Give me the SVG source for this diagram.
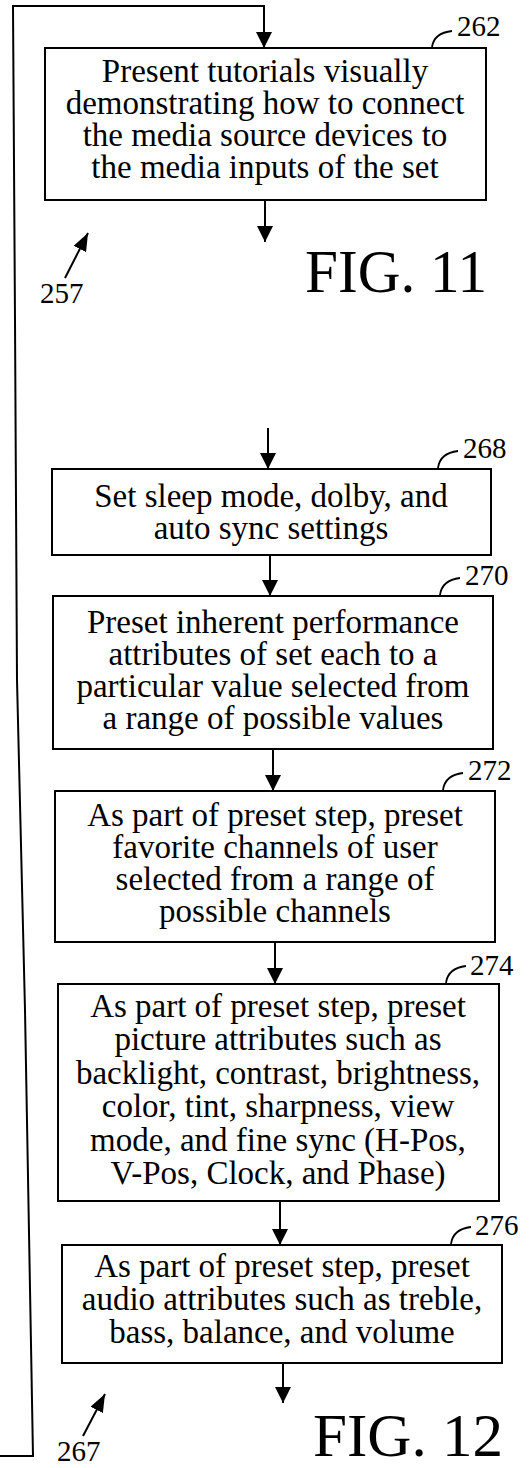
<svg xmlns="http://www.w3.org/2000/svg" width="529" height="1468" viewBox="0 0 529 1468">
<style>
.box{fill:none;stroke:#000;stroke-width:2}
.t{font-family:"Liberation Serif","Times New Roman",serif;font-size:33px;fill:#000;text-anchor:middle}
.lbl{font-family:"Liberation Serif","Times New Roman",serif;font-size:29px;fill:#000}
.fig{font-family:"Liberation Serif","Times New Roman",serif;font-size:62px;fill:#000}
.ln{fill:none;stroke:#000;stroke-width:2}
.ld{fill:none;stroke:#000;stroke-width:1.8}
</style>
<defs>
<marker id="ah" viewBox="0 0 16 16" refX="16" refY="8" markerWidth="16" markerHeight="16" orient="auto" markerUnits="userSpaceOnUse"><path d="M0,0 L16,8 L0,16 z" fill="#000"/></marker>
<marker id="ah2" viewBox="0 0 18 14" refX="18" refY="7" markerWidth="18" markerHeight="14" orient="auto" markerUnits="userSpaceOnUse"><path d="M0,0 L18,7 L0,14 z" fill="#000"/></marker>
</defs>
<rect width="529" height="1468" fill="#fff"/>
<g id="connectors">
<polyline class="ln" points="0,1456 33,1456 25,1010 17,680 15,320 13,6 264,6 264,48" marker-end="url(#ah)"/>
<line class="ln" x1="265" y1="200" x2="265" y2="242" marker-end="url(#ah)"/>
<line class="ln" x1="268" y1="428" x2="268" y2="469" marker-end="url(#ah)"/>
<line class="ln" x1="270" y1="555" x2="270" y2="596" marker-end="url(#ah)"/>
<line class="ln" x1="273" y1="749" x2="273" y2="791" marker-end="url(#ah)"/>
<line class="ln" x1="275" y1="942" x2="275" y2="984" marker-end="url(#ah)"/>
<line class="ln" x1="280" y1="1201" x2="280" y2="1245" marker-end="url(#ah)"/>
<line class="ln" x1="283" y1="1363" x2="283" y2="1403" marker-end="url(#ah)"/>
<line class="ln" x1="65" y1="278" x2="88" y2="233" marker-end="url(#ah2)"/>
<line class="ln" x1="83" y1="1436" x2="105" y2="1394" marker-end="url(#ah2)"/>
</g>
<g id="n262">
<rect class="box" x="45" y="48" width="441" height="152"/>
<text class="t" x="265" y="82">Present tutorials visually</text>
<text class="t" x="265" y="114">demonstrating how to connect</text>
<text class="t" x="265" y="146">the media source devices to</text>
<text class="t" x="265" y="178">the media inputs of the set</text>
<path class="ld" d="M432,47 Q434,33 452,31"/>
<text class="lbl" x="457" y="36">262</text>
</g>
<g id="n268">
<rect class="box" x="52" y="469" width="439" height="86"/>
<text class="t" x="271" y="507">Set sleep mode, dolby, and</text>
<text class="t" x="271" y="539">auto sync settings</text>
<path class="ld" d="M438,468 Q440,453 458,451"/>
<text class="lbl" x="463" y="458">268</text>
</g>
<g id="n270">
<rect class="box" x="53" y="596" width="440" height="153"/>
<text class="t" x="273" y="633">Preset inherent performance</text>
<text class="t" x="273" y="665">attributes of set each to a</text>
<text class="t" x="273" y="697">particular value selected from</text>
<text class="t" x="273" y="729">a range of possible values</text>
<path class="ld" d="M440,595 Q442,580 460,578"/>
<text class="lbl" x="465" y="585">270</text>
</g>
<g id="n272">
<rect class="box" x="55" y="791" width="440" height="151"/>
<text class="t" x="275" y="826">As part of preset step, preset</text>
<text class="t" x="275" y="858">favorite channels of user</text>
<text class="t" x="275" y="890">selected from a range of</text>
<text class="t" x="275" y="922">possible channels</text>
<path class="ld" d="M443,790 Q445,775 463,773"/>
<text class="lbl" x="468" y="780">272</text>
</g>
<g id="n274">
<rect class="box" x="58" y="984" width="441" height="217"/>
<text class="t" x="278" y="1017">As part of preset step, preset</text>
<text class="t" x="278" y="1050">picture attributes such as</text>
<text class="t" x="278" y="1084">backlight, contrast, brightness,</text>
<text class="t" x="278" y="1117">color, tint, sharpness, view</text>
<text class="t" x="278" y="1151">mode, and fine sync (H-Pos,</text>
<text class="t" x="278" y="1184">V-Pos, Clock, and Phase)</text>
<path class="ld" d="M446,983 Q448,968 466,966"/>
<text class="lbl" x="470" y="975">274</text>
</g>
<g id="n276">
<rect class="box" x="62" y="1245" width="440" height="118"/>
<text class="t" x="282" y="1277">As part of preset step, preset</text>
<text class="t" x="282" y="1310">audio attributes such as treble,</text>
<text class="t" x="282" y="1343">bass, balance, and volume</text>
<path class="ld" d="M451,1244 Q453,1229 471,1227"/>
<text class="lbl" x="475" y="1235">276</text>
</g>
<g id="labels">
<text class="lbl" x="40" y="303" style="font-size:29px">257</text>
<text class="lbl" x="57" y="1461" style="font-size:29px">267</text>
<text class="fig" x="305" y="292" textLength="182" lengthAdjust="spacingAndGlyphs">FIG. 11</text>
<text class="fig" x="313" y="1456" textLength="190" lengthAdjust="spacingAndGlyphs">FIG. 12</text>
</g>
</svg>
